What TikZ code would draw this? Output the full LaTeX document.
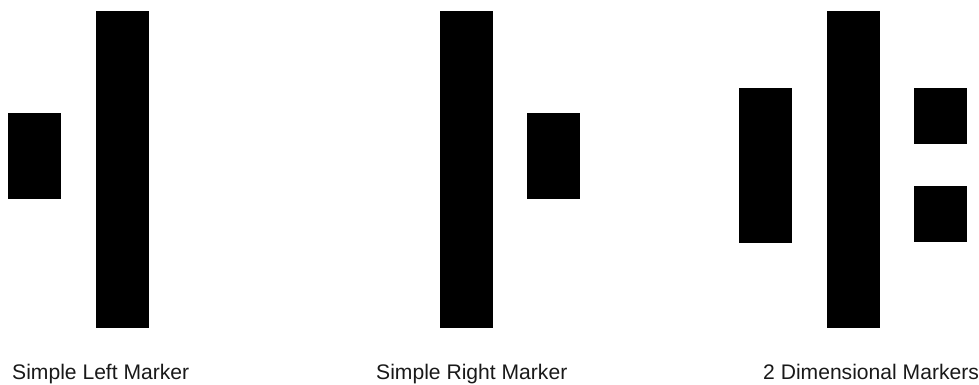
\documentclass[tikz,border=0pt]{standalone}
\usepackage{fontspec}
\setmainfont{Liberation Sans}
\begin{document}
\begin{tikzpicture}[x=1pt,y=-1pt,
  bar/.style={fill=black},
  lbl/.style={anchor=base west,inner sep=0pt,text=black!90,font=\fontsize{21.1}{25}\selectfont}]
\useasboundingbox (0,0) rectangle (979,385);
% Simple Left Marker
\fill[bar] (8,113) rectangle (61,199);
\fill[bar] (96,11) rectangle (149,328);
% Simple Right Marker
\fill[bar] (440,11) rectangle (493,328);
\fill[bar] (527,113) rectangle (580,199);
% 2 Dimensional Markers
\fill[bar] (739,88) rectangle (792,243);
\fill[bar] (827,11) rectangle (880,328);
\fill[bar] (914,88) rectangle (967,144);
\fill[bar] (914,186) rectangle (967,242);
% labels
\node[lbl] (l1) at (12,379) {Simple Left Marker};
\node[lbl] (l2) at (376,379) {Simple Right Marker};
\node[lbl] (l3) at (763,379) {2 Dimensional Markers};
\end{tikzpicture}
\end{document}
